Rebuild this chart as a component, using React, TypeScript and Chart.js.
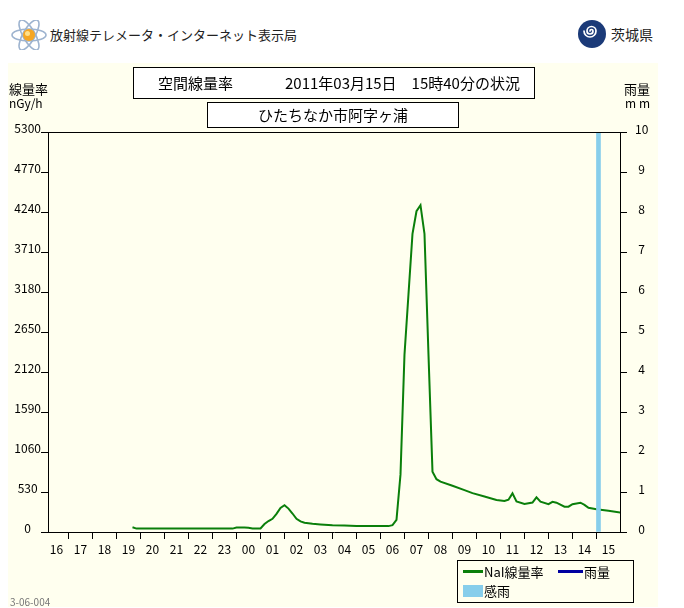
import React, { useEffect, useRef } from "react";
import { Chart, registerables } from "chart.js";

Chart.register(...registerables);

// ---------- data ----------
const hourLabels = ["16", "17", "18", "19", "20", "21", "22", "23", "00", "01", "02", "03", "04", "05", "06", "07", "08", "09", "10", "11", "12", "13", "14", "15"];

const naiTimes = [
  "19:10", "19:20", "23:20", "23:30", "23:50", "00:00", "00:10", "00:30", "00:40", "00:50",
  "01:00", "01:10", "01:20", "01:30", "01:40", "01:50", "02:00", "02:10", "02:20", "02:40",
  "03:00", "03:30", "04:00", "04:30", "05:00", "05:50", "06:00", "06:10", "06:20", "06:30",
  "06:40", "06:50", "07:00", "07:10", "07:20", "07:30", "07:40", "07:50", "08:00", "08:30",
  "09:00", "09:20", "09:50", "10:20", "10:40", "10:50", "11:00", "11:10", "11:30", "11:50",
  "12:00", "12:10", "12:30", "12:40", "12:50", "13:10", "13:20", "13:30", "13:50", "14:00",
  "14:10", "14:30", "15:00", "15:30", "15:40",
];
const naiValues = [
  62, 45, 45, 58, 60, 55, 45, 47, 105, 145,
  175, 240, 320, 355, 310, 245, 175, 140, 122, 108,
  100, 90, 85, 80, 78, 78, 90, 160, 760, 2350,
  3150, 3950, 4250, 4330, 3950, 2350, 800, 700, 667, 612,
  555, 515, 470, 425, 410, 428, 512, 405, 372, 390,
  460, 402, 368, 400, 388, 335, 335, 368, 388, 360,
  320, 302, 283, 258, 250,
];

const rainTimes: string[] = [];
const rainValues: number[] = [];

const rainSenseTimes = ["14:30"];
const rainSenseValues = [10];

const doseTicks = [0, 530, 1060, 1590, 2120, 2650, 3180, 3710, 4240, 4770, 5300];
const rainTicks = [0, 1, 2, 3, 4, 5, 6, 7, 8, 9, 10];

const titleMain = "空間線量率";
const titleDate = "2011年03月15日　15時40分の状況";
const stationName = "ひたちなか市阿字ヶ浦";

// ---------- styling ----------
const FONT = "'Noto Sans CJK JP', 'Noto Sans', sans-serif";
const PANEL = "#FFFFEF";
const GREEN = "#0A7F0A";
const BLUE = "#0000A0";
const SKY = "#87CEEB";

const START_HOUR = 16;
const toHours = (t: string) => {
  const [h, m] = t.split(":").map(Number);
  return ((h - START_HOUR + 24) % 24) + m / 60;
};
const X_MIN = -0.354;
const X_MAX = 23.48;

const decorPlugin = {
  id: "decor",
  afterDatasetsDraw(chart: any) {
    const { ctx, chartArea: a } = chart;
    ctx.save();
    ctx.strokeStyle = "#000";
    ctx.lineWidth = 1;
    // top frame line
    ctx.beginPath();
    ctx.moveTo(a.left, Math.round(a.top) + 0.5);
    ctx.lineTo(a.right, Math.round(a.top) + 0.5);
    ctx.stroke();

    // title boxes
    ctx.fillStyle = "#fff";
    ctx.fillRect(125.5, 4.5, 401, 31);
    ctx.strokeRect(125.5, 4.5, 401, 31);
    ctx.fillRect(199.5, 39.5, 251, 25);
    ctx.strokeRect(199.5, 39.5, 251, 25);

    ctx.fillStyle = "#000";
    ctx.textBaseline = "middle";
    ctx.font = `15px ${FONT}`;
    ctx.textAlign = "left";
    ctx.fillText(titleMain, 150, 20);
    ctx.fillText(titleDate, 277, 20);
    ctx.textAlign = "center";
    ctx.fillText(stationName, 325, 52);

    // axis titles
    ctx.font = `13px ${FONT}`;
    ctx.textAlign = "left";
    ctx.fillText("線量率", 1, 26);
    ctx.font = `12px ${FONT}`;
    ctx.fillText("nGy/h", 1, 40);
    ctx.font = `13px ${FONT}`;
    ctx.textAlign = "right";
    ctx.fillText("雨量", 642, 26);
    ctx.font = `12px ${FONT}`;
    ctx.fillText("m m", 642, 40);

    // legend
    const ds = chart.data.datasets;
    ctx.strokeStyle = "#000";
    ctx.lineWidth = 1;
    ctx.strokeRect(449.5, 497.5, 176, 42);
    ctx.font = `13px ${FONT}`;
    ctx.textAlign = "left";
    ctx.lineWidth = 3;
    ctx.strokeStyle = ds[0].borderColor;
    ctx.beginPath();
    ctx.moveTo(455, 508.5);
    ctx.lineTo(475, 508.5);
    ctx.stroke();
    ctx.fillStyle = "#000";
    ctx.fillText(ds[0].label, 476, 509);
    ctx.strokeStyle = ds[1].borderColor;
    ctx.beginPath();
    ctx.moveTo(550, 508.5);
    ctx.lineTo(575, 508.5);
    ctx.stroke();
    ctx.fillText(ds[1].label, 576, 509);
    ctx.fillStyle = ds[2].backgroundColor;
    ctx.fillRect(455, 522, 20, 12);
    ctx.fillStyle = "#000";
    ctx.fillText(ds[2].label, 476, 528);

    // footnote
    ctx.font = `10px ${FONT}`;
    ctx.fillStyle = "#777";
    ctx.textAlign = "left";
    ctx.fillText("3-06-004", 2, 539);
    ctx.restore();
  },
};

const tickFont = { family: FONT, size: 12 };

export default function App() {
  const ref = useRef<HTMLCanvasElement>(null);

  useEffect(() => {
    const canvas = ref.current;
    if (!canvas) return;
    const chart = new Chart(canvas, {
      type: "line",
      data: {
        datasets: [
          {
            type: "line",
            label: "NaI線量率",
            data: naiTimes.map((t, i) => ({ x: toHours(t), y: naiValues[i] })),
            borderColor: GREEN,
            backgroundColor: GREEN,
            borderWidth: 2,
            pointRadius: 0,
            tension: 0,
            yAxisID: "y",
            order: 2,
          },
          {
            type: "line",
            label: "雨量",
            data: rainTimes.map((t, i) => ({ x: toHours(t), y: rainValues[i] })),
            borderColor: BLUE,
            backgroundColor: BLUE,
            borderWidth: 2,
            pointRadius: 0,
            yAxisID: "y1",
            order: 1,
          },
          {
            type: "bar",
            label: "感雨",
            data: rainSenseTimes.map((t, i) => ({ x: toHours(t) + 5 / 60, y: rainSenseValues[i] })),
            backgroundColor: SKY,
            borderWidth: 0,
            barThickness: 4,
            grouped: false,
            yAxisID: "y1",
            order: 0,
          } as any,
        ],
      },
      options: {
        animation: false,
        responsive: false,
        events: [],
        layout: { padding: { left: 0, right: 0, top: 69, bottom: 0 } },
        plugins: {
          legend: { display: false },
          tooltip: { enabled: false },
          title: { display: false },
        },
        scales: {
          x: {
            type: "linear",
            min: X_MIN,
            max: X_MAX,
            offset: false,
            afterBuildTicks: (s: any) => {
              s.ticks = hourLabels.map((_, i) => ({ value: i }));
            },
            afterFit: (s: any) => {
              s.height = 75;
            },
            grid: { drawOnChartArea: false, drawTicks: true, tickLength: 7, color: "#000" },
            border: { display: true, color: "#000", width: 1 },
            ticks: {
              callback: (v: any) => hourLabels[Math.round(Number(v))] ?? "",
              padding: 3,
              font: tickFont,
              color: "#000",
              maxRotation: 0,
              minRotation: 0,
              autoSkip: false,
            },
          },
          y: {
            type: "linear",
            position: "left",
            min: 0,
            max: 5300,
            afterBuildTicks: (s: any) => {
              s.ticks = doseTicks.map((v) => ({ value: v }));
            },
            afterFit: (s: any) => {
              s.width = 40;
            },
            grid: { drawOnChartArea: false, drawTicks: true, tickLength: 7, color: "#000" },
            border: { display: true, color: "#000", width: 1 },
            ticks: {
              callback: (v: any) => String(v),
              padding: 0,
              crossAlign: "center",
              labelOffset: -4,
              font: tickFont,
              color: "#000",
            },
          },
          y1: {
            type: "linear",
            position: "right",
            min: 0,
            max: 10,
            afterBuildTicks: (s: any) => {
              s.ticks = rainTicks.map((v) => ({ value: v }));
            },
            afterFit: (s: any) => {
              s.width = 38;
            },
            grid: { drawOnChartArea: false, drawTicks: true, tickLength: 7, color: "#000" },
            border: { display: true, color: "#000", width: 1 },
            ticks: {
              callback: (v: any) => String(v),
              padding: 8,
              crossAlign: "center",
              labelOffset: -3,
              font: tickFont,
              color: "#000",
            },
          },
        },
      } as any,
      plugins: [decorPlugin],
    });
    return () => chart.destroy();
  }, []);

  return (
    <div style={{ position: "relative", width: 676, height: 600, fontFamily: FONT }}>
      <svg width={38} height={30} viewBox="0 0 38 30" style={{ position: "absolute", left: 2, top: 12 }}>
        <ellipse cx={19} cy={15} rx={17} ry={6} fill="none" stroke="#9DB3CF" strokeWidth={1.6} />
        <ellipse cx={19} cy={15} rx={17} ry={6} fill="none" stroke="#9DB3CF" strokeWidth={1.6} transform="rotate(60 19 15)" />
        <ellipse cx={19} cy={15} rx={17} ry={6} fill="none" stroke="#9DB3CF" strokeWidth={1.6} transform="rotate(-60 19 15)" />
        <circle cx={19} cy={15} r={6} fill="#F5A623" />
        <circle cx={17.5} cy={13.5} r={2.5} fill="#FFE08A" />
      </svg>
      <div style={{ position: "absolute", left: 42, top: 17, fontSize: 13, lineHeight: "20px", color: "#222", whiteSpace: "nowrap" }}>
        放射線テレメータ・インターネット表示局
      </div>
      <svg width={30} height={30} viewBox="0 0 30 30" style={{ position: "absolute", left: 569, top: 11 }}>
        <circle cx={15} cy={15} r={14} fill="#1B3A78" />
        <path d="M13 12 a1.5 1.5 0 0 1 3 0 a3 3 0 0 1 -6 0 a4.5 4.5 0 0 1 9 0 a6 6 0 0 1 -12 0" fill="none" stroke="#fff" strokeWidth={1.7} strokeLinecap="round" />
      </svg>
      <div style={{ position: "absolute", left: 603, top: 16, fontSize: 14, lineHeight: "20px", color: "#222", whiteSpace: "nowrap" }}>
        茨城県
      </div>
      <div style={{ position: "absolute", left: 0, top: 55, width: 650, height: 544, background: PANEL }}>
        <canvas ref={ref} width={650} height={544} style={{ display: "block" }} />
      </div>
    </div>
  );
}
